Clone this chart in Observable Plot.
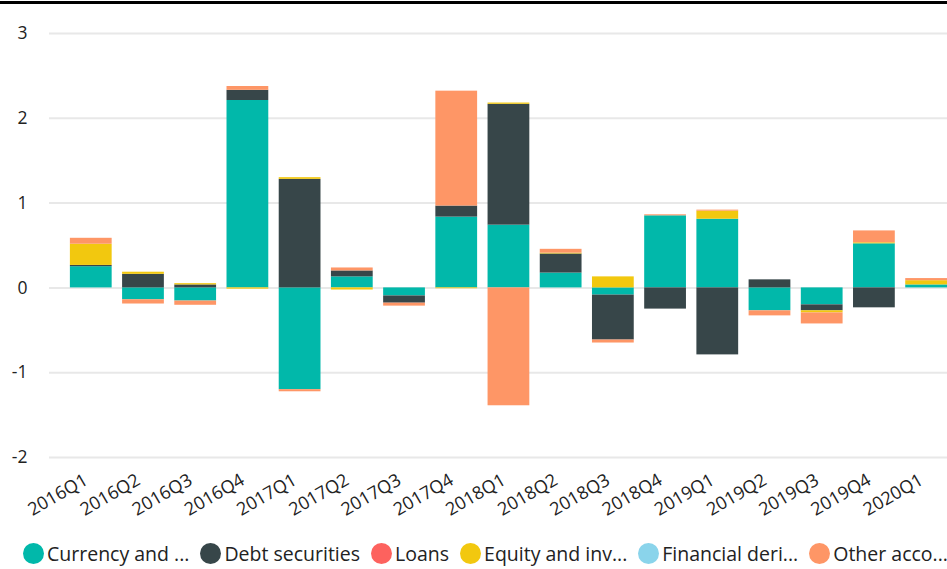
<!DOCTYPE html>
<html>
<head>
<meta charset="utf-8">
<script src="https://cdn.jsdelivr.net/npm/d3@7"></script>
<script src="https://cdn.jsdelivr.net/npm/@observablehq/plot@0.6"></script>
<style>
  html, body { margin: 0; padding: 0; background: #fff; }
  body { width: 947px; height: 569px; overflow: hidden; font-family: "Open Sans", "Noto Sans", sans-serif; }
  #wrap { margin-top: 1px; border-top: 3px solid #000; }
  #legend { display: flex; align-items: center; padding-left: 23px; height: 39px; padding-top: 8px; box-sizing: border-box; font-size: 19.5px; color: #222; white-space: nowrap; }
  .item { display: flex; align-items: center; margin-right: 11px; }
  .dot { width: 21px; height: 21px; border-radius: 50%; margin-right: 3px; flex: none; }
</style>
</head>
<body>
<div id="wrap">
  <div id="chart"></div>
  <div id="legend"></div>
</div>
<script>
const quarters = ["2016Q1","2016Q2","2016Q3","2016Q4","2017Q1","2017Q2","2017Q3","2017Q4","2018Q1","2018Q2","2018Q3","2018Q4","2019Q1","2019Q2","2019Q3","2019Q4","2020Q1"];
const seriesNames = ["Currency and deposits","Debt securities","Loans","Equity and investment fund shares","Financial derivatives","Other accounts receivable/payable"];
const legendLabels = ["Currency and ...","Debt securities","Loans","Equity and inv...","Financial deri...","Other acco..."];
const seriesColors = ["#01B8AA","#374649","#FD625E","#F2C80F","#8AD4EB","#FE9666"];
const currency  = [0.25, -0.14, -0.155, 2.21, -1.2, 0.13, -0.095, 0.835, 0.74, 0.175, -0.085, 0.85, 0.81, -0.27, -0.2, 0.52, 0.035];
const debt      = [0.015, 0.16, 0.035, 0.12, 1.28, 0.07, -0.085, 0.13, 1.425, 0.225, -0.53, -0.25, -0.79, 0.095, -0.07, -0.235, 0];
const loans     = [0, 0, 0, 0, 0, 0, 0, 0, 0, 0, 0, 0, 0, 0, 0, 0, 0];
const equity    = [0.25, 0.025, 0.015, -0.015, 0.02, -0.025, 0, -0.01, 0.015, 0.01, 0.13, 0, 0.095, 0, -0.025, 0.012, 0.05];
const financial = [0, 0, 0, 0, 0, 0, 0, 0, 0, 0, 0, 0, 0, 0, 0, 0, 0];
const other     = [0.07, -0.05, -0.05, 0.045, -0.025, 0.035, -0.035, 1.355, -1.39, 0.045, -0.035, 0.012, 0.012, -0.06, -0.13, 0.14, 0.025];
const yTicks = [-2, -1, 0, 1, 2, 3];

const allSeries = [currency, debt, loans, equity, financial, other];
const rows = [];
allSeries.forEach((vals, si) => {
  vals.forEach((v, qi) => {
    if (v !== 0) rows.push({quarter: quarters[qi], series: seriesNames[si], value: v});
  });
});

const chart = Plot.plot({
  width: 947,
  height: 526,
  marginLeft: 49,
  marginRight: 0,
  marginTop: 29,
  marginBottom: 73,
  style: {fontFamily: '"Open Sans", "Noto Sans", sans-serif', color: "#222", background: "#fff"},
  x: {domain: quarters, padding: 0.2, align: 1, round: false, label: null},
  y: {domain: [-2, 3], label: null},
  color: {domain: seriesNames, range: seriesColors},
  marks: [
    Plot.gridY(yTicks, {stroke: "#e8e8e8", strokeOpacity: 1, strokeWidth: 2}),
    Plot.axisY(yTicks, {tickSize: 0, tickPadding: 22, fontSize: 17.5, tickFormat: d => `${d}`, label: null}),
    Plot.axisX({tickSize: 0, tickRotate: -30, tickPadding: 23, fontSize: 18, dx: -5, dy: -2, label: null}),
    Plot.barY(rows, {x: "quarter", y: "value", fill: "series", order: seriesNames})
  ]
});
document.getElementById("chart").appendChild(chart);

const legend = document.getElementById("legend");
legendLabels.forEach((lab, i) => {
  const item = document.createElement("div");
  item.className = "item";
  const dot = document.createElement("span");
  dot.className = "dot";
  dot.style.background = seriesColors[i];
  const txt = document.createElement("span");
  txt.textContent = lab;
  item.appendChild(dot);
  item.appendChild(txt);
  legend.appendChild(item);
});
</script>
</body>
</html>
